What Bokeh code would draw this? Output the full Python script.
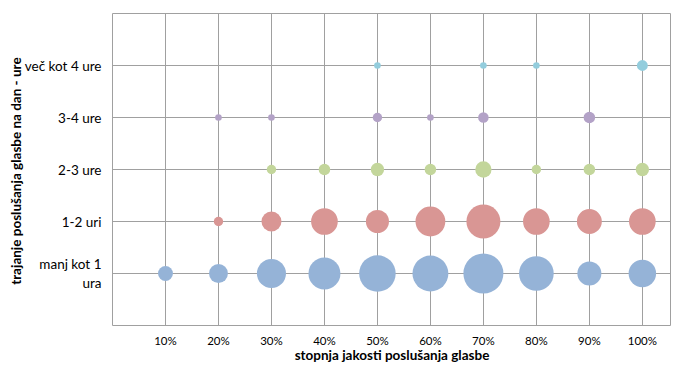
import math
from bokeh.plotting import figure
from bokeh.models import ColumnDataSource, FixedTicker
from bokeh.embed import file_html
from bokeh.resources import INLINE

# ---- data ----
x_levels = [10, 20, 30, 40, 50, 60, 70, 80, 90, 100]
x_tick_labels = ["10%", "20%", "30%", "40%", "50%", "60%", "70%", "80%", "90%", "100%"]
y_levels = [1, 2, 3, 4, 5]
y_tick_labels = ["manj kot 1\nura", "1-2 uri", "2-3 ure", "3-4 ure", "več kot 4 ure"]

manj_kot_1_ura = [5, 8, 19, 23, 30, 29, 36, 27, 13, 17]
ure_1_2 = [0, 2, 9, 16, 12, 20, 26, 16, 14, 16]
ure_2_3 = [0, 0, 2, 3, 4, 3, 6, 2, 3, 4]
ure_3_4 = [0, 1, 1, 0, 2, 1, 2.5, 0, 3, 0]
vec_kot_4 = [0, 0, 0, 0, 1, 0, 1, 1, 0, 2.7]

series = [
    (manj_kot_1_ura, 1, "#95B3D7"),
    (ure_1_2, 2, "#D99694"),
    (ure_2_3, 3, "#C3D69B"),
    (ure_3_4, 4, "#B3A2C7"),
    (vec_kot_4, 5, "#93CDDD"),
]

SCALE = 6.67  # px diameter for a bubble of value 1 (area proportional to value)

FONT = "Lato"

p = figure(width=671, height=365, x_range=(0, 105.5), y_range=(0, 6),
           output_backend="svg", toolbar_location=None,
           min_border_left=112, min_border_right=0, min_border_top=13,
           min_border_bottom=40)

p.background_fill_color = "white"
p.border_fill_color = "white"
p.outline_line_color = "#a0a0a0"
p.outline_line_width = 1

for vals, ylev, col in series:
    xs = [x for x, v in zip(x_levels, vals) if v > 0]
    vs = [v for v in vals if v > 0]
    src = ColumnDataSource(dict(x=xs, y=[ylev] * len(xs), v=vs,
                                size=[SCALE * math.sqrt(v) for v in vs]))
    p.scatter(x="x", y="y", size="size", source=src, fill_color=col,
              line_color=None, fill_alpha=1.0)

# grid
p.xgrid.grid_line_color = "#a0a0a0"
p.ygrid.grid_line_color = "#a0a0a0"
p.xgrid.grid_line_width = 1
p.ygrid.grid_line_width = 1

# x axis
p.xaxis.ticker = FixedTicker(ticks=x_levels)
p.xaxis.major_label_overrides = dict(zip(x_levels, x_tick_labels))
p.xaxis.axis_label = "stopnja jakosti poslušanja glasbe"
p.xaxis.major_label_text_font = FONT
p.xaxis.major_label_text_font_size = "11.5px"
p.xaxis.major_label_text_color = "#000000"
p.xaxis.major_label_standoff = 2
p.xaxis.axis_label_text_font = FONT
p.xaxis.axis_label_text_font_style = "bold"
p.xaxis.axis_label_text_font_size = "13.5px"
p.xaxis.axis_label_text_color = "#000000"
p.xaxis.axis_label_standoff = -3

# y axis
p.yaxis.ticker = FixedTicker(ticks=y_levels)
p.yaxis.major_label_overrides = dict(zip(y_levels, y_tick_labels))
p.yaxis.axis_label = "trajanje poslušanja  glasbe na dan - ure"
p.yaxis.major_label_text_font = FONT
p.yaxis.major_label_text_font_size = "13.5px"
p.yaxis.major_label_text_color = "#000000"
p.yaxis.major_label_standoff = 5
p.yaxis.axis_label_text_font = FONT
p.yaxis.axis_label_text_font_style = "bold"
p.yaxis.axis_label_text_font_size = "13.5px"
p.yaxis.axis_label_text_color = "#000000"
p.yaxis.axis_label_standoff = -2

for ax in (p.xaxis, p.yaxis):
    ax.axis_line_color = None
    ax.major_tick_line_color = None
    ax.minor_tick_line_color = None

open("out.html", "w").write(file_html(p, INLINE))
